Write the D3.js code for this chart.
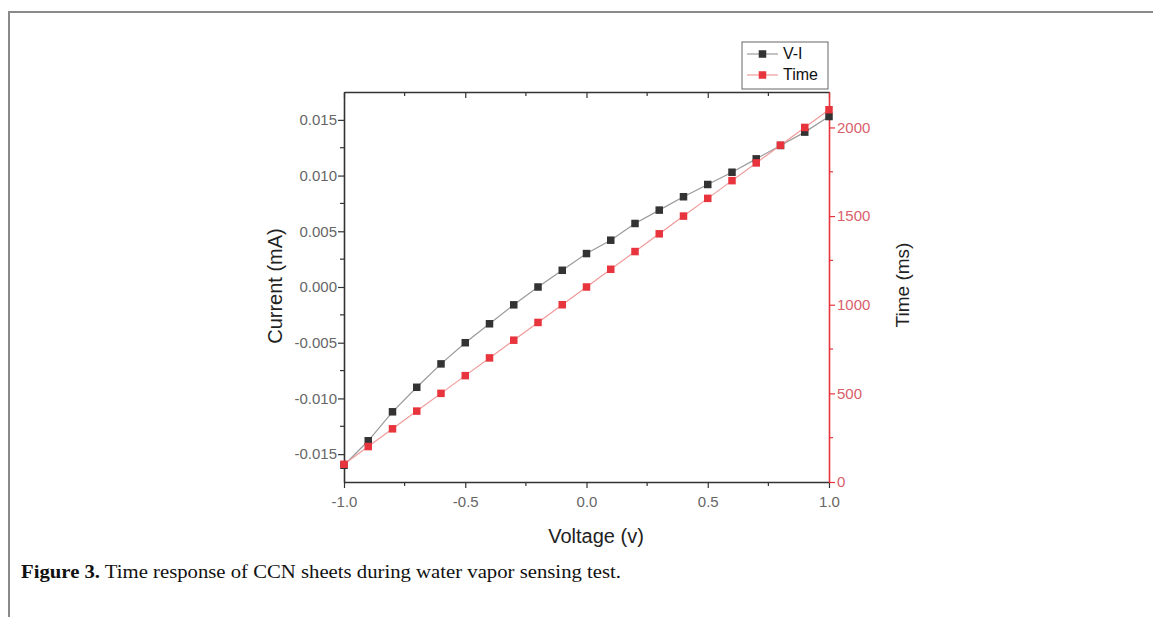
<!DOCTYPE html>
<html>
<head>
<meta charset="utf-8">
<script src="https://cdn.jsdelivr.net/npm/d3@7/dist/d3.min.js"></script>
<style>
  html, body { margin: 0; padding: 0; background: #fff; }
  svg { display: block; }
</style>
</head>
<body>
<svg id="chart" width="1153" height="617"></svg>
<script>
// Sweep voltage (V)
const voltage = [-1.0, -0.9, -0.8, -0.7, -0.6, -0.5, -0.4, -0.3, -0.2, -0.1, 0.0,
                 0.1, 0.2, 0.3, 0.4, 0.5, 0.6, 0.7, 0.8, 0.9, 1.0];
// Measured current (mA)
const current = [-0.0160, -0.0138, -0.0112, -0.0090, -0.0069, -0.0050, -0.0033, -0.0016, 0.0000, 0.0015, 0.0030,
                 0.0042, 0.0057, 0.0069, 0.0081, 0.0092, 0.0103, 0.0115, 0.0127, 0.0139, 0.0153];
// Elapsed time (ms)
const timeMs = [100, 200, 300, 400, 500, 600, 700, 800, 900, 1000, 1100,
                1200, 1300, 1400, 1500, 1600, 1700, 1800, 1900, 2000, 2100];

const xTicks = [-1.0, -0.5, 0.0, 0.5, 1.0];
const currentTicks = [-0.015, -0.010, -0.005, 0.000, 0.005, 0.010, 0.015];
const timeTicks = [0, 500, 1000, 1500, 2000];
const legendLabels = ["V-I", "Time"];

const svg = d3.select("#chart");
const plot = { left: 344, right: 829, top: 92, bottom: 482 };

const x = d3.scaleLinear().domain([-1, 1]).range([plot.left, plot.right]);
const yI = d3.scaleLinear().domain([-0.0175, 0.0175]).range([plot.bottom, plot.top]);
const yT = d3.scaleLinear().domain([0, 2200]).range([plot.bottom, plot.top]);

const black = "#333";
const red = "#e8343c";
const labelGray = "#666";
const labelRed = "#d9606a";
const sans = "Liberation Sans, Arial, sans-serif";

// Plain hyphen for negative numbers
const fmt = spec => { const f = d3.format(spec); return d => f(d).replace("\u2212", "-"); };

// Page frame
svg.append("path")
  .attr("d", "M9,617 V12 H1153")
  .attr("fill", "none").attr("stroke", "#8a8a8a").attr("stroke-width", 2);

// Minor tick positions
const xMinor = [-0.75, -0.25, 0.25, 0.75];
const iMinor = [-0.0125, -0.0075, -0.0025, 0.0025, 0.0075, 0.0125];
const tMinor = [250, 750, 1250, 1750];

function styleAxis(g, lineColor, textColor) {
  g.select(".domain").attr("stroke", lineColor).attr("stroke-width", 1.6);
  g.selectAll(".tick line").attr("stroke", lineColor).attr("stroke-width", 1.2);
  g.selectAll(".tick text").attr("fill", textColor)
    .attr("font-family", sans).attr("font-size", 15);
}

// Bottom axis
const gxB = svg.append("g").attr("transform", `translate(0,${plot.bottom})`)
  .call(d3.axisBottom(x).tickValues(xTicks).tickFormat(fmt(".1f")).tickSize(6).tickPadding(8).tickSizeOuter(0));
styleAxis(gxB, black, labelGray);
gxB.selectAll(".minor").data(xMinor).enter().append("line")
  .attr("x1", d => x(d)).attr("x2", d => x(d)).attr("y1", 0).attr("y2", 4)
  .attr("stroke", black).attr("stroke-width", 1.2);

// Top axis (ticks pointing into the plot, no labels)
const gxT = svg.append("g").attr("transform", `translate(0,${plot.top})`)
  .call(d3.axisBottom(x).tickValues(xTicks).tickFormat("").tickSize(6).tickSizeOuter(0));
styleAxis(gxT, black, labelGray);
gxT.selectAll(".minor").data(xMinor).enter().append("line")
  .attr("x1", d => x(d)).attr("x2", d => x(d)).attr("y1", 0).attr("y2", 4)
  .attr("stroke", black).attr("stroke-width", 1.2);

// Left axis: current
const gyL = svg.append("g").attr("transform", `translate(${plot.left},0)`)
  .call(d3.axisLeft(yI).tickValues(currentTicks).tickFormat(fmt(".3f")).tickSize(6).tickPadding(1).tickSizeOuter(0));
styleAxis(gyL, black, labelGray);
gyL.selectAll(".minor").data(iMinor).enter().append("line")
  .attr("y1", d => yI(d)).attr("y2", d => yI(d)).attr("x1", 0).attr("x2", -4)
  .attr("stroke", black).attr("stroke-width", 1.2);

// Right axis: time
const gyR = svg.append("g").attr("transform", `translate(${plot.right},0)`)
  .call(d3.axisRight(yT).tickValues(timeTicks).tickFormat(d3.format("d")).tickSize(6).tickPadding(2).tickSizeOuter(0));
styleAxis(gyR, red, labelRed);
gyR.selectAll(".minor").data(tMinor).enter().append("line")
  .attr("y1", d => yT(d)).attr("y2", d => yT(d)).attr("x1", 0).attr("x2", 4)
  .attr("stroke", red).attr("stroke-width", 1.2);

// Axis titles
svg.append("text").attr("x", 596).attr("y", 543)
  .attr("text-anchor", "middle").attr("font-family", sans).attr("font-size", 20).attr("fill", "#222")
  .text("Voltage (v)");
svg.append("text").attr("transform", `translate(282,286) rotate(-90)`)
  .attr("text-anchor", "middle").attr("font-family", sans).attr("font-size", 20).attr("fill", "#222")
  .text("Current (mA)");
svg.append("text").attr("transform", `translate(909,285) rotate(-90)`)
  .attr("text-anchor", "middle").attr("font-family", sans).attr("font-size", 19).attr("fill", "#222")
  .text("Time (ms)");

// Series
const viData = voltage.map((v, i) => ({ v, val: current[i] }));
const tData = voltage.map((v, i) => ({ v, val: timeMs[i] }));

const msz = 7.5;
function drawSeries(data, yScale, lineColor, markColor) {
  const g = svg.append("g");
  g.append("path").datum(data)
    .attr("d", d3.line().x(d => x(d.v)).y(d => yScale(d.val)))
    .attr("fill", "none").attr("stroke", lineColor).attr("stroke-width", 1.2);
  g.selectAll("rect").data(data).enter().append("rect")
    .attr("x", d => x(d.v) - msz / 2).attr("y", d => yScale(d.val) - msz / 2)
    .attr("width", msz).attr("height", msz).attr("fill", markColor);
}
drawSeries(viData, yI, "#9a9a9a", black);
drawSeries(tData, yT, "#f09a9a", red);

// Legend
const lg = svg.append("g").attr("transform", "translate(742,42)");
lg.append("rect").attr("x", 0).attr("y", 0).attr("width", 86).attr("height", 47)
  .attr("fill", "#fff").attr("stroke", "#666").attr("stroke-width", 1);
const legendColors = [["#9a9a9a", black], ["#f09a9a", red]];
legendLabels.forEach((lab, i) => {
  const yy = 12 + i * 21;
  lg.append("line").attr("x1", 5).attr("x2", 36).attr("y1", yy).attr("y2", yy)
    .attr("stroke", legendColors[i][0]).attr("stroke-width", 1.2);
  lg.append("rect").attr("x", 20.5 - msz / 2).attr("y", yy - msz / 2).attr("width", msz).attr("height", msz)
    .attr("fill", legendColors[i][1]);
  lg.append("text").attr("x", 41).attr("y", yy + 5)
    .attr("font-family", sans).attr("font-size", 16).attr("fill", "#111").text(lab);
});

// Caption
const cap = svg.append("text").attr("x", 21).attr("y", 578)
  .attr("font-family", "Liberation Serif, Times New Roman, serif").attr("font-size", 18).attr("fill", "#111")
  .attr("textLength", 600).attr("lengthAdjust", "spacingAndGlyphs");
cap.append("tspan").attr("font-weight", "bold").text("Figure 3.");
cap.append("tspan").text(" Time response of CCN sheets during water vapor sensing test.");
</script>
</body>
</html>
